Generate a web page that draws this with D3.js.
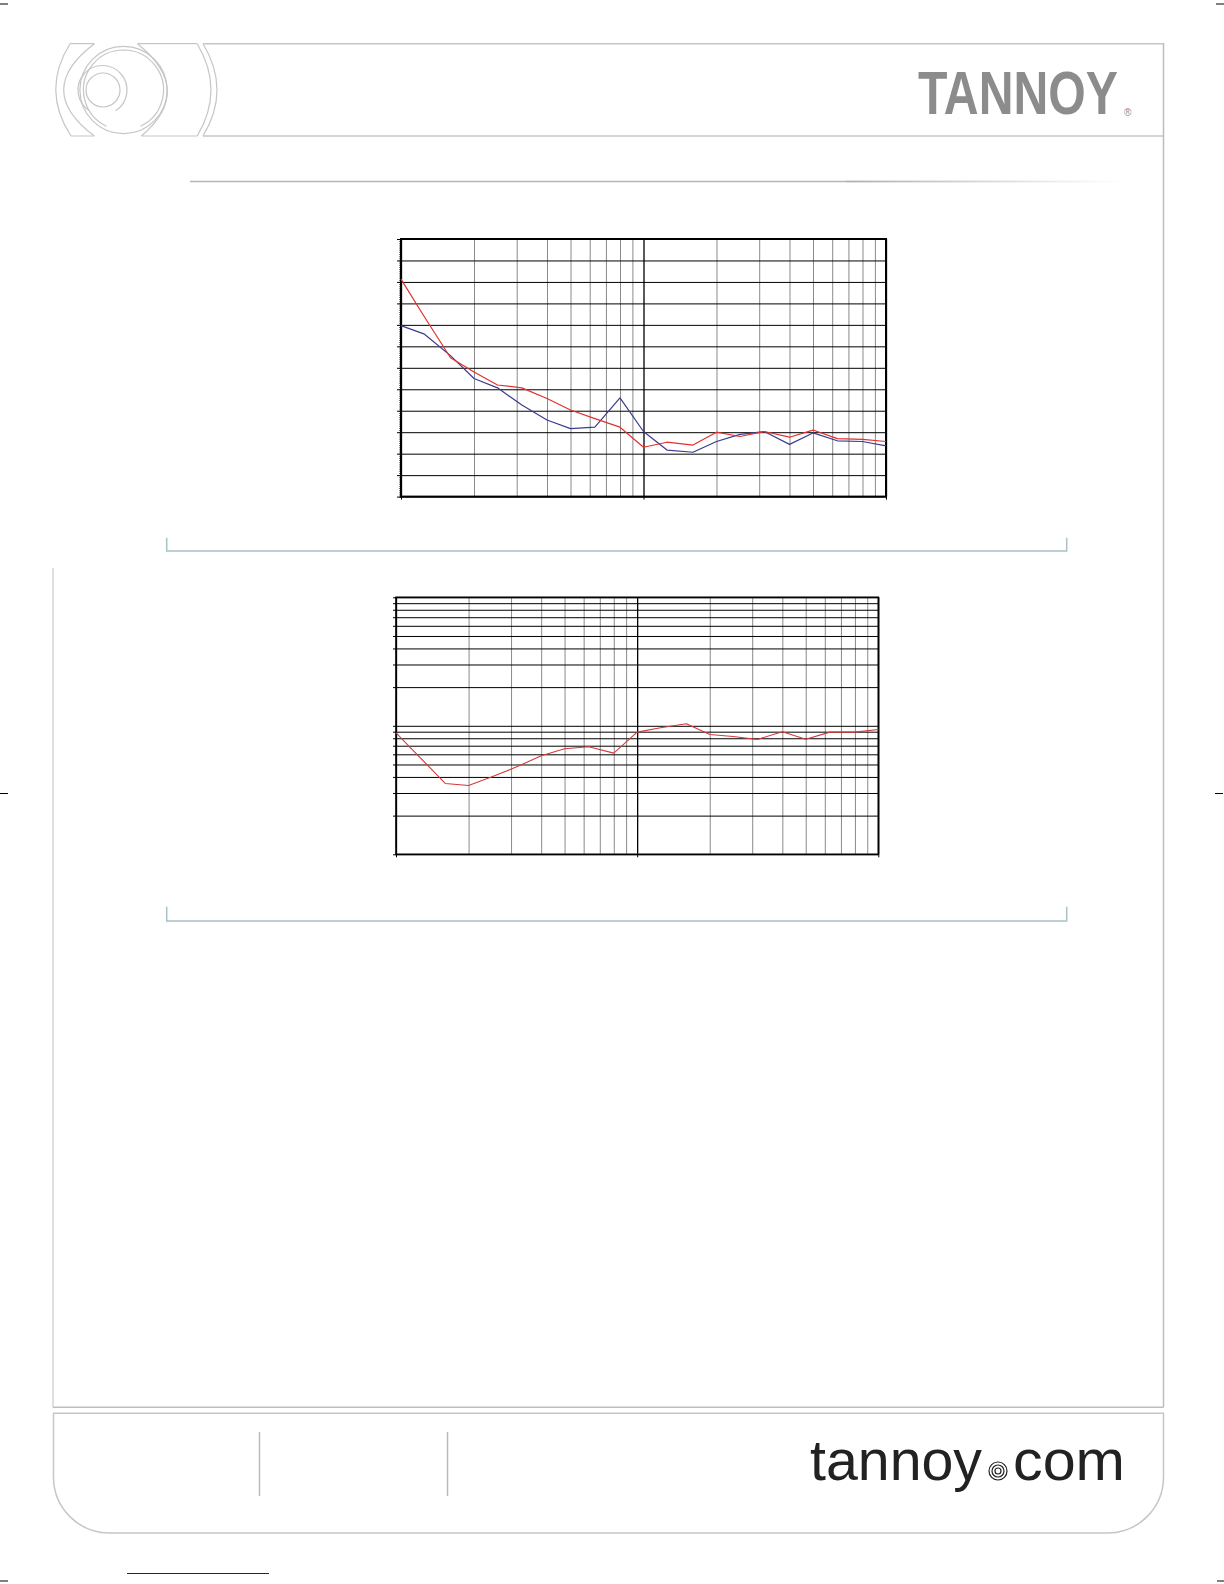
<!DOCTYPE html>
<html><head><meta charset="utf-8">
<script src="https://cdn.jsdelivr.net/npm/d3@7"></script>
<style>body{margin:0;background:#fff}svg{display:block}</style>
</head><body><svg id="page" width="1224" height="1584"></svg>
<script>
// ---- data ----
const freqs = [100,125,160,200,250,315,400,500,630,800,1000,1250,1600,2000,2500,3150,4000,5000,6300,8000,10000];
const beamRed  = [304,251,194,174,156,152,137,121,109,97,69,76,72,90,84,91,83,93,81,80,77];
const beamBlue = [239,227,197,165,152,128,107,95,97,138,91,65,62,77,87,91,73,89,78,77,71];
const qRed = [0.882,0.574,0.356,0.343,0.401,0.477,0.584,0.662,0.687,0.613,0.893,0.965,1.036,0.856,0.826,0.783,0.898,0.787,0.893,0.893,0.936];
const decadeTicks = [100,1000,10000];
const freqGridTicks = [100,200,300,400,500,600,700,800,900,1000,2000,3000,4000,5000,6000,7000,8000,9000,10000];
const beamTicks = d3.range(0, 361, 30);
const beamMinorTicks = d3.range(0, 361, 3);
const qTicks = [0.1,0.2,0.3,0.4,0.5,0.6,0.7,0.8,0.9,1,2,3,4,5,6,7,8,9,10];
const tickLabels = []; // the reference shows no axis labels

const svg = d3.select('#page');
const grey = '#c6c6c6';

// ---- page furniture ----
function line(x1,y1,x2,y2,stroke,w){svg.append('line').attr('x1',x1).attr('y1',y1).attr('x2',x2).attr('y2',y2).attr('stroke',stroke).attr('stroke-width',w);}
[[0,4],[1216,4],[0,793.5],[1215,793.5],[0,1581],[1217,1581]].forEach(([x,y])=>line(x,y,x+8,y,'#000',1));
line(203,43.7,1163.5,43.7,grey,1.5);
line(203,136,1163.5,136,grey,1.5);
line(1163.5,43,1163.5,1407.3,'#bdbdbd',1.5);
line(53,568,53,1407.3,'#d6d6d6',1.5);
line(53,1407.3,1163.5,1407.3,'#bdbdbd',1.5);
const lg = svg.append('g').attr('fill','none').attr('stroke',grey).attr('stroke-width',1.2);
lg.append('path').attr('d','M70,43.7 Q41,90 71,136 M94.4,43.7 Q33,90 94.4,136 M70,43.7 H94.4 M71,136 H94.4');
lg.append('path').attr('d','M137.5,43.7 Q195.2,90 141.4,136 M197.2,43.7 Q224.8,90 197.2,136 M137.5,43.7 H197.2 M141.4,136 H197.2 M203,43.7 Q231,90 203,136');
lg.append('circle').attr('cx',123.5).attr('cy',90).attr('r',43.6);
lg.append('path').attr('transform','translate(123.5,90)').attr('d',d3.arc()({innerRadius:40,outerRadius:40,startAngle:-Math.PI*0.86,endAngle:Math.PI*0.86}));
lg.append('path').attr('transform','translate(102.5,90)').attr('d',d3.arc()({innerRadius:24.5,outerRadius:24.5,startAngle:-Math.PI*0.82,endAngle:Math.PI*0.82}));
lg.append('circle').attr('cx',103).attr('cy',90).attr('r',17);
// TANNOY logo, horizontally scaled by transform so its box is its real size
const logo = svg.append('text').attr('font-family','Liberation Sans, Arial, sans-serif').attr('font-weight','bold')
  .attr('font-size',62).attr('fill','#8c8c8c').text('TANNOY');
const natW = logo.node().getComputedTextLength();
logo.attr('transform',`translate(918,114) scale(${200/natW},1)`);
svg.append('text').attr('x',1124).attr('y',116).attr('font-family','Liberation Sans, Arial, sans-serif').attr('font-size',10).attr('fill','#8c8c8c').text('®');
const defs = svg.append('defs');
const gr = defs.append('linearGradient').attr('id','fade').attr('x1','0').attr('x2','1');
gr.append('stop').attr('offset','0').attr('stop-color','#b0b0b0');
gr.append('stop').attr('offset','1').attr('stop-color','#ffffff');
line(190,181.5,846,181.5,'#b5b5b5',1.5);
svg.append('rect').attr('x',846).attr('y',180.6).attr('width',276).attr('height',1.8).attr('fill','url(#fade)');
svg.append('path').attr('d','M166.7,537.7 V551 H1066.7 V537.7').attr('fill','none').attr('stroke','#a9c1c6').attr('stroke-width',1.5);
svg.append('path').attr('d','M166.7,906.7 V921 H1066.7 V906.7').attr('fill','none').attr('stroke','#a9c1c6').attr('stroke-width',1.5);
svg.append('path').attr('d','M53.5,1413.3 V1477 A56,56 0 0 0 109.5,1533 H1107.5 A56,56 0 0 0 1163.5,1477 V1413.3 Z')
  .attr('fill','none').attr('stroke',grey).attr('stroke-width',1.5);
line(259.5,1432,259.5,1496,'#bbbbbb',1.5);
line(447.5,1432,447.5,1496,'#bbbbbb',1.5);
svg.append('text').attr('x',810).attr('y',1480).attr('font-family','Liberation Sans, Arial, sans-serif').attr('font-size',57).attr('fill','#222')
  .attr('textLength',172).attr('lengthAdjust','spacingAndGlyphs').text('tannoy');
svg.append('text').attr('x',1013).attr('y',1480).attr('font-family','Liberation Sans, Arial, sans-serif').attr('font-size',57).attr('fill','#222')
  .attr('textLength',112).attr('lengthAdjust','spacingAndGlyphs').text('com');
const ic = svg.append('g').attr('fill','none').attr('stroke','#222').attr('stroke-width',1.2);
[9,6,3].forEach(r=>ic.append('circle').attr('cx',998).attr('cy',1471).attr('r',r));
line(127,1573.5,269,1573.5,'#1a1a8c',1.2);

function chart(o){
  const g = svg.append('g');
  const W = o.x1 - o.x0, H = o.y1 - o.y0;
  const vg = g.append('g').attr('transform',`translate(0,${o.y0})`)
    .call(d3.axisBottom(o.x).tickValues(freqGridTicks).tickSize(H).tickFormat(''));
  vg.select('.domain').remove();
  vg.selectAll('line').attr('stroke',d=>decadeTicks.includes(d)?'#000':'#8a8a8a').attr('stroke-width',d=>decadeTicks.includes(d)?1.3:1);
  const hg = g.append('g').attr('transform',`translate(${o.x0},0)`)
    .call(d3.axisLeft(o.y).tickValues(o.yTicks).tickSize(-W).tickFormat(''));
  hg.select('.domain').remove();
  hg.selectAll('line').attr('stroke','#000').attr('stroke-width',1);
  const lt = g.append('g').attr('transform',`translate(${o.x0},0)`)
    .call(d3.axisLeft(o.y).tickValues(o.yTicks).tickSize(o.tickLen).tickFormat(''));
  lt.select('.domain').remove(); lt.selectAll('line').attr('stroke','#000');
  if(o.yMinor){
    const mt = g.append('g').attr('transform',`translate(${o.x0},0)`)
      .call(d3.axisLeft(o.y).tickValues(o.yMinor).tickSize(1.8).tickFormat(''));
    mt.select('.domain').remove(); mt.selectAll('line').attr('stroke','#000').attr('stroke-width',0.7);
  }
  const bt = g.append('g').attr('transform',`translate(0,${o.y1})`)
    .call(d3.axisBottom(o.x).tickValues(decadeTicks).tickSize(3).tickFormat(''));
  bt.select('.domain').remove(); bt.selectAll('line').attr('stroke','#000');
  g.append('rect').attr('x',o.x0).attr('y',o.y0).attr('width',W).attr('height',H)
    .attr('fill','none').attr('stroke','#000').attr('stroke-width',o.border);
  o.series.forEach(s=>{
    g.append('path').datum(s.values).attr('fill','none').attr('stroke',s.color).attr('stroke-width',s.w)
      .attr('stroke-linejoin','round')
      .attr('d',d3.line().x((d,i)=>o.x(freqs[i])).y(d=>o.y(d)));
  });
}

const x1 = d3.scaleLog().domain([100,10000]).range([401,886]);
const y1 = d3.scaleLinear().domain([0,360]).range([496.6,239]);
chart({x:x1,y:y1,x0:401,x1:886,y0:239,y1:496.6,yTicks:beamTicks,yMinor:beamMinorTicks,tickLen:4,border:2,
  series:[{values:beamBlue,color:'#3b3b8f',w:1.2},{values:beamRed,color:'#e0322c',w:1.2}]});

const x2 = d3.scaleLog().domain([100,10000]).range([396,878.3]);
const y2 = d3.scaleLog().domain([0.1,10]).range([854.3,597.3]);
chart({x:x2,y:y2,x0:396,x1:878.3,y0:597.3,y1:854.3,yTicks:qTicks,yMinor:null,tickLen:3,border:1.6,
  series:[{values:qRed,color:'#d23a3a',w:1.1}]});
</script></body></html>
